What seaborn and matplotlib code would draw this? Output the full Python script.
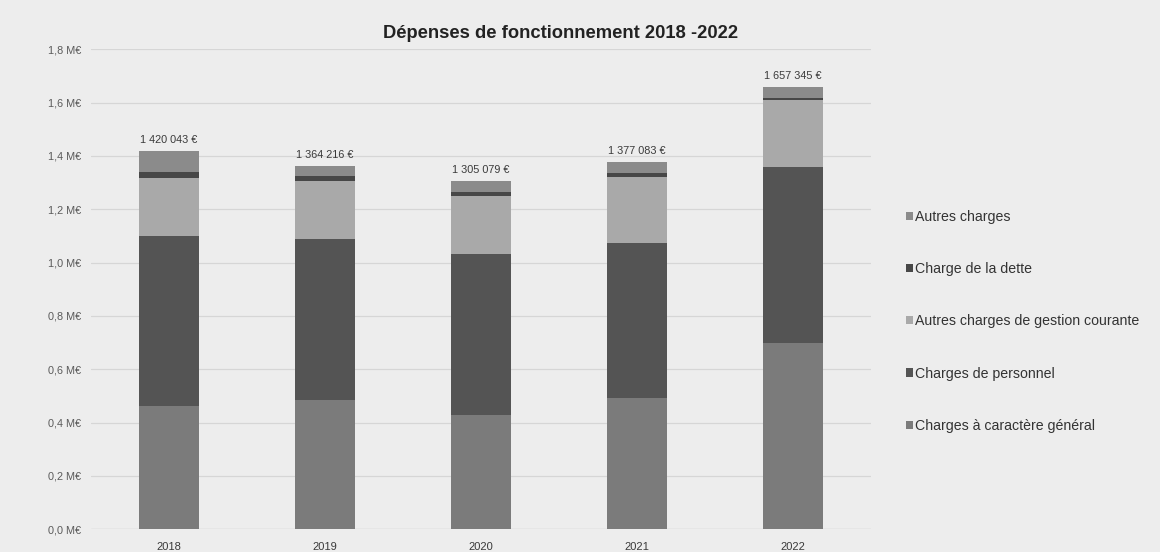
import matplotlib
matplotlib.use("Agg")
import matplotlib.pyplot as plt
from matplotlib.patches import Patch
from matplotlib.ticker import FuncFormatter
import numpy as np
import pandas as pd
import seaborn as sns

# Dépenses de fonctionnement par nature (en euros)
years = ["2018", "2019", "2020", "2021", "2022"]
charges_generales = [463000, 486000, 429000, 491000, 700000]
charges_personnel = [638000, 603000, 602000, 584000, 660000]
autres_gestion = [217000, 217000, 218000, 247000, 250000]
charge_dette = [23000, 19000, 16000, 14000, 6000]
autres_charges = [79043, 39216, 40079, 41083, 41345]

series_names = [
    "Charges à caractère général",
    "Charges de personnel",
    "Autres charges de gestion courante",
    "Charge de la dette",
    "Autres charges",
]
series_values = [charges_generales, charges_personnel, autres_gestion,
                 charge_dette, autres_charges]
series_colors = ["#7b7b7b", "#545454", "#a9a9a9", "#474747", "#8b8b8b"]

sns.set_theme(style="white")
plt.rcParams["font.family"] = ["Liberation Sans", "DejaVu Sans"]

fig = plt.figure(figsize=(11.6, 5.52), dpi=100, facecolor="#ededed")
ax = fig.add_axes([0.0784, 0.0411, 0.6726, 0.8696])
ax.set_facecolor("#ededed")

# Stacked bars: cumulative totals drawn from the top layer down
data = pd.DataFrame({name: vals for name, vals in zip(series_names, series_values)},
                    index=years)
cumul = data.cumsum(axis=1) / 1e6
for name, color in reversed(list(zip(series_names, series_colors))):
    sns.barplot(x=years, y=cumul[name].values, color=color, width=0.385,
                saturation=1, ax=ax, linewidth=0, zorder=3)

totals = data.sum(axis=1)
for i, total in enumerate(totals):
    txt = f"{int(round(total)):,} €".replace(",", " ")
    ax.text(i, total / 1e6 + 0.022, txt, ha="center", va="bottom",
            fontsize=7.8, color="#3a3a3a", zorder=4)

ax.set_ylim(0, 1.8)
ax.set_xlim(-0.5, 4.5)
ax.set_yticks(np.arange(0, 1.81, 0.2))
ax.yaxis.set_major_formatter(FuncFormatter(lambda v, _: f"{v:.1f} M€".replace(".", ",")))
ax.grid(axis="y", color="#d6d6d6", linewidth=0.9, zorder=0)
ax.grid(axis="x", visible=False)
for s in ax.spines.values():
    s.set_visible(False)
ax.axhline(0, color="#cfcfcf", linewidth=0.9, zorder=1)
ax.tick_params(axis="y", labelsize=7.8, labelcolor="#5a5a5a", pad=7, length=0)
ax.tick_params(axis="x", labelsize=8, labelcolor="#3a3a3a", pad=9, length=0)
ax.set_xlabel("")
ax.set_ylabel("")

fig.text(0.483, 0.94, "Dépenses de fonctionnement 2018 -2022", ha="center",
         va="center", fontsize=13.2, fontweight="bold", color="#222222")

handles = [Patch(facecolor=c, edgecolor="none", label=n)
           for n, c in zip(series_names, series_colors)][::-1]
leg = fig.legend(handles=handles, loc="upper left", bbox_to_anchor=(0.77, 0.643),
                 frameon=False, fontsize=10.2, handlelength=0.5, handleheight=0.5,
                 handletextpad=0.15, labelspacing=2.7, labelcolor="#333333")

fig.savefig("out.png", dpi=100, facecolor=fig.get_facecolor())
